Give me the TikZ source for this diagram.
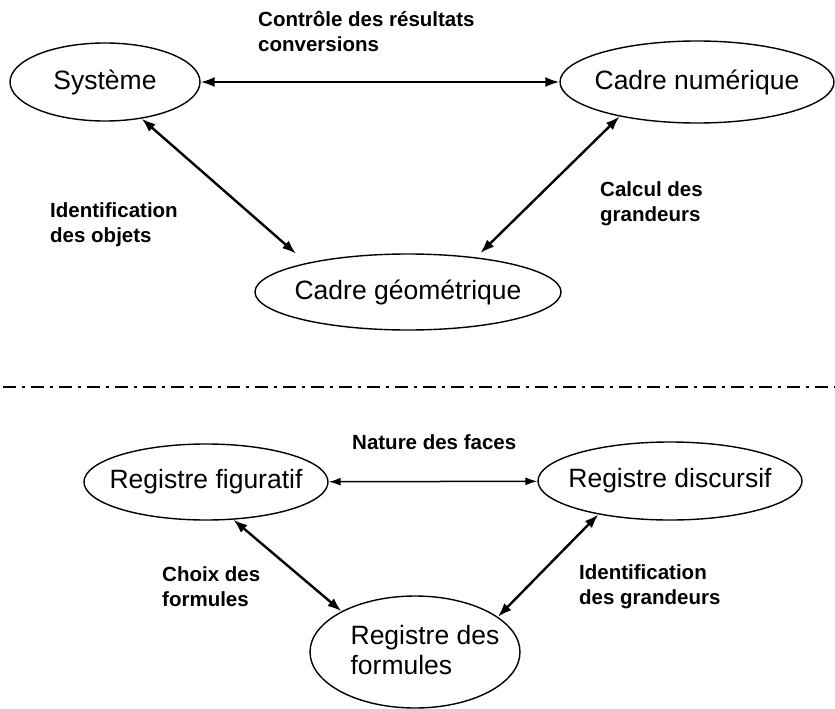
\documentclass[tikz,border=0pt]{standalone}
\usepackage{fontspec}
\setmainfont{Liberation Sans}
\usetikzlibrary{arrows.meta,shapes.geometric}
\tikzset{
  ell/.style={draw, ellipse, line width=1.4pt, inner sep=0pt},
  ntext/.style={font=\fontsize{26.5}{30}\selectfont, inner sep=0pt},
  lbl/.style={font=\bfseries\fontsize{20.5}{25}\selectfont, align=left, anchor=west, inner sep=0pt},
  biarrow/.style={line width=2.4pt, {Latex[length=14pt,width=10pt]}-{Latex[length=14pt,width=10pt]}},
  thinarrow/.style={line width=1.5pt, {Latex[length=12pt,width=8pt]}-{Latex[length=12pt,width=8pt]}},
  sepline/.style={line width=2pt, dash pattern=on 13pt off 6pt on 3pt off 6pt},
}
\begin{document}
\begin{tikzpicture}[x=1pt,y=-1pt]
\useasboundingbox (0,0) rectangle (835,709);

% top part
\node[ell, minimum width=190pt, minimum height=78pt, label={[ntext]center:Système}] (sys) at (105,82) {};
\node[ell, minimum width=274pt, minimum height=82pt, label={[ntext]center:Cadre numérique}] (num) at (697,82) {};
\node[ell, minimum width=306pt, minimum height=76pt, label={[ntext]center:Cadre géométrique}] (geo) at (408,292) {};

\draw[biarrow, line width=2pt] (sys) -- (num);
\draw[biarrow, shorten >=14pt] (sys.-45) -- (geo.164);
\draw[biarrow, shorten >=6pt] (num.204) -- (geo.27);

\node[lbl] (l1) at (258,31) {Contrôle des résultats\\conversions};
\node[lbl] (l2) at (50,225) {Identification\\des objets};
\node[lbl] (l3) at (600,204) {Calcul des\\grandeurs};

% separator
\coordinate (sepL) at (3,387);
\coordinate (sepR) at (835,387);
\draw[sepline] (sepL) -- (sepR);

% bottom part
\node[ell, minimum width=244pt, minimum height=76pt, label={[ntext]center:Registre figuratif}] (fig) at (206,482) {};
\node[ell, minimum width=264pt, minimum height=78pt, label={[ntext]center:Registre discursif}] (disc) at (670,481) {};
\node[ell, minimum width=210pt, minimum height=112pt, label={[ntext, align=left, xshift=10pt, yshift=2pt]center:Registre des\\formules}] (form) at (415,652) {};

\draw[thinarrow] (fig) -- (disc);
\draw[biarrow] (fig.-54) -- (form.151);
\draw[biarrow] (disc.205) -- (form.23);

\node[lbl] (l4) at (352,442) {Nature des faces};
\node[lbl] (l5) at (162,587) {Choix des\\formules};
\node[lbl] (l6) at (579,587) {Identification\\des grandeurs};
\end{tikzpicture}
\end{document}
